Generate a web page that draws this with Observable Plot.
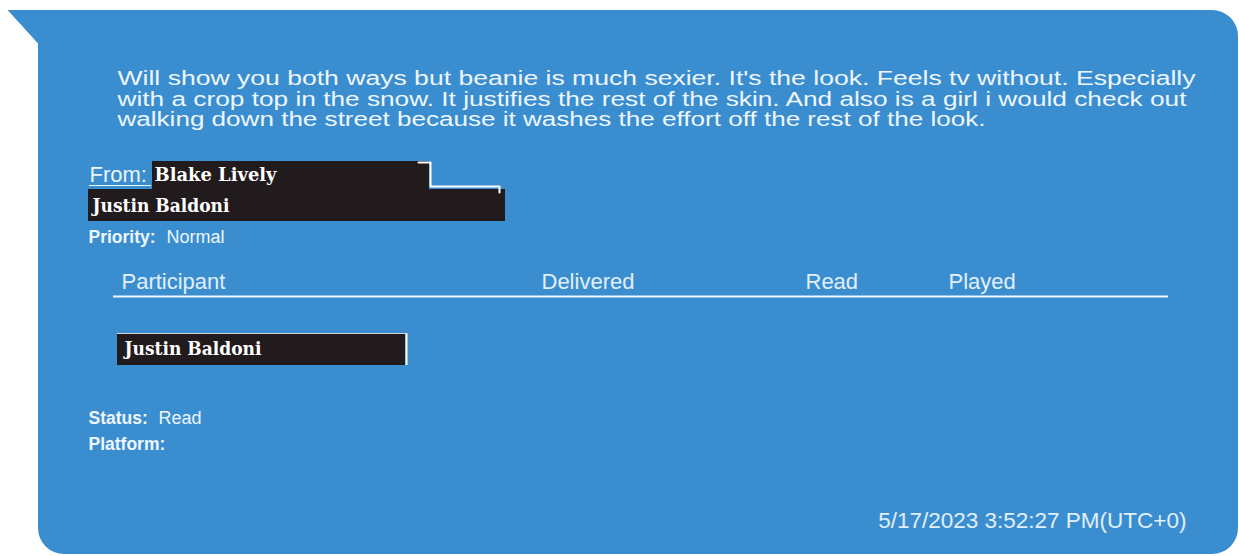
<!DOCTYPE html>
<html>
<head>
<meta charset="utf-8">
<script src="https://cdn.jsdelivr.net/npm/d3@7"></script>
<script src="https://cdn.jsdelivr.net/npm/@observablehq/plot@0.6"></script>
<style>
  html, body { margin: 0; padding: 0; background: #ffffff; }
  #chart svg { display: block; }
</style>
</head>
<body>
<div id="chart"></div>
<script>
// ---------- DATA (text content of the message card) ----------
const messageLines = [
  "Will show you both ways but beanie is much sexier. It's the look. Feels tv without. Especially",
  "with a crop top in the snow. It justifies the rest of the skin. And also is a girl i would check out",
  "walking down the street because it washes the effort off the rest of the look."
];
const fromLabel = "From:";
const senderName = "Blake Lively";
const recipientName = "Justin Baldoni";
const metaLabels = ["Priority:", "Status:", "Platform:"];
const metaValues = ["Normal", "Read", ""];
const tableColumns = ["Participant", "Delivered", "Read", "Played"];
const participants = ["Justin Baldoni"];
const timestamp = "5/17/2023 3:52:27 PM(UTC+0)";

// ---------- LAYOUT (pixel geometry of the card) ----------
const W = 1239, H = 556;
const bubbleColor = "#3a8ecf";
const redactColor = "#221b1d";
const textColor = "#eef6ff";
const sans = "Liberation Sans, Arial, sans-serif";
const serif = "DejaVu Serif, serif";

const layout = {
  body: {x1: 38, x2: 1238, y1: 10, y2: 554, r: 26},
  tail: [[8, 10], [90, 10], [90, 70], [39, 70], [39, 44], [8, 10]],
  msgX: 117, msgY: [78.5, 99, 119.5], msgWidths: [1078, 1069, 868], msgSize: 20,
  fromX: 89, fromY: 174, fromSize: 22, underlineY: 185, underlineX2: 151,
  boxA: {x1: 152, x2: 429, y1: 161, y2: 189},
  boxB: {x1: 88, x2: 505, y1: 189, y2: 221},
  outline: [[418, 162], [430, 162], [430, 186], [499, 186], [499, 192]],
  senderX: 154, senderY: 175,
  recipientX: 92, recipientY: 206,
  nameSize: 18, nameWidths: {"Blake Lively": 122, "Justin Baldoni": 137},
  metaX: 88, metaY: [237, 418, 444], metaValueDx: [78, 70, 0], metaSize: 17.5,
  colX: [121, 541, 805, 948], headerY: 281, headerSize: 22,
  ruleY: 296, ruleX1: 113, ruleX2: 1168,
  boxC: {x1: 117, x2: 405, y1: 333, y2: 365},
  participantX: 124, participantY: 349,
  stampX: 1186, stampY: 520, stampSize: 22.5
};

const tailPts = layout.tail.map(([x, y]) => ({x, y}));
const outlinePts = layout.outline.map(([x, y]) => ({x, y}));
const msgRows = messageLines.map((t, i) => ({t, x: layout.msgX, y: layout.msgY[i]}));
const metaRows = metaLabels.map((t, i) => ({t, v: metaValues[i], x: layout.metaX, vx: layout.metaX + layout.metaValueDx[i], y: layout.metaY[i]}));
const headerRows = tableColumns.map((t, i) => ({t, x: layout.colX[i], y: layout.headerY}));
const participantRows = participants.map((t, i) => ({t, x: layout.participantX, y: layout.participantY + i * 36}));
const boxes = [layout.boxA, layout.boxB, layout.boxC];

const chart = Plot.plot({
  width: W,
  height: H,
  margin: 0,
  x: {domain: [0, W], axis: null},
  y: {domain: [0, H], reverse: true, axis: null},
  style: {background: "#ffffff"},
  marks: [
    // bubble body
    Plot.rect([layout.body], {x1: "x1", x2: "x2", y1: "y1", y2: "y2", rx: layout.body.r, fill: bubbleColor}),
    // bubble tail (square top-left joined to a pointed tail)
    Plot.line(tailPts, {x: "x", y: "y", fill: bubbleColor, stroke: bubbleColor, strokeWidth: 1, curve: "linear"}),
    // message text
    Plot.text(msgRows, {x: "x", y: "y", text: "t", textAnchor: "start", lineAnchor: "middle",
      fill: textColor, fontSize: layout.msgSize, fontFamily: sans}),
    // From label + underline
    Plot.text([fromLabel], {x: layout.fromX, y: layout.fromY, text: d => d, textAnchor: "start", lineAnchor: "middle",
      fill: textColor, fontSize: layout.fromSize, fontFamily: sans}),
    Plot.ruleY([layout.underlineY], {x1: layout.fromX, x2: layout.underlineX2, stroke: textColor, strokeWidth: 1}),
    // redaction boxes
    Plot.rect(boxes, {x1: "x1", x2: "x2", y1: "y1", y2: "y2", fill: redactColor}),
    Plot.line(outlinePts, {x: "x", y: "y", stroke: "#ffffff", strokeWidth: 2, curve: "linear"}),
    Plot.ruleX([layout.boxC.x2 + 1], {y1: layout.boxC.y1, y2: layout.boxC.y2, stroke: "#ffffff", strokeWidth: 2}),
    Plot.ruleY([layout.boxC.y1], {x1: layout.boxC.x1, x2: layout.boxC.x2 + 2, stroke: "#d8d8d8", strokeWidth: 1}),
    Plot.text([senderName], {x: layout.senderX, y: layout.senderY, text: d => d, textAnchor: "start", lineAnchor: "middle",
      fill: "#ffffff", fontSize: layout.nameSize, fontWeight: "bold", fontFamily: serif}),
    Plot.text([recipientName], {x: layout.recipientX, y: layout.recipientY, text: d => d, textAnchor: "start", lineAnchor: "middle",
      fill: "#ffffff", fontSize: layout.nameSize, fontWeight: "bold", fontFamily: serif}),
    // meta fields
    Plot.text(metaRows, {x: "x", y: "y", text: "t", textAnchor: "start", lineAnchor: "middle",
      fill: textColor, fontSize: layout.metaSize, fontWeight: "bold", fontFamily: sans}),
    Plot.text(metaRows.filter(d => d.v), {x: "vx", y: "y", text: "v", textAnchor: "start", lineAnchor: "middle",
      fill: textColor, fontSize: layout.metaSize + 0.5, fontFamily: sans}),
    // table header + rule
    Plot.text(headerRows, {x: "x", y: "y", text: "t", textAnchor: "start", lineAnchor: "middle",
      fill: "#e2effb", fontSize: layout.headerSize, fontFamily: sans}),
    Plot.ruleY([layout.ruleY], {x1: layout.ruleX1, x2: layout.ruleX2, stroke: "#eef6ff", strokeWidth: 2}),
    Plot.text(participantRows, {x: "x", y: "y", text: "t", textAnchor: "start", lineAnchor: "middle",
      fill: "#ffffff", fontSize: layout.nameSize, fontWeight: "bold", fontFamily: serif}),
    // timestamp
    Plot.text([timestamp], {x: layout.stampX, y: layout.stampY, text: d => d, textAnchor: "end", lineAnchor: "middle",
      fill: "#e2effb", fontSize: layout.stampSize, fontFamily: sans})
  ]
});

document.getElementById("chart").append(chart);
// fit a few texts to the widths they have in the reference
d3.select(chart).selectAll("text").each(function () {
  const t = this.textContent;
  const i = messageLines.indexOf(t);
  let w = null;
  if (i >= 0) w = layout.msgWidths[i];
  else if (layout.nameWidths[t] != null) w = layout.nameWidths[t];
  if (w != null) {
    this.setAttribute("textLength", w);
    this.setAttribute("lengthAdjust", "spacingAndGlyphs");
  }
});
</script>
</body>
</html>
